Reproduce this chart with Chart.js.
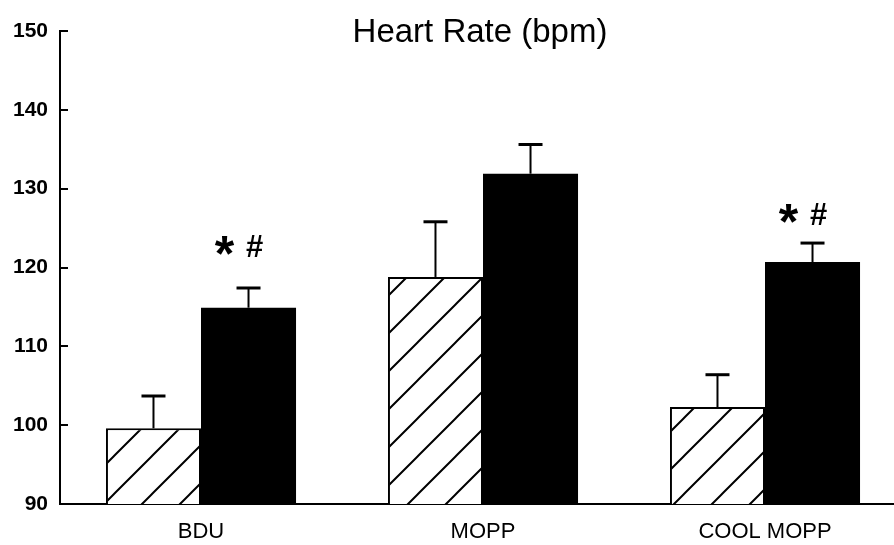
<!DOCTYPE html>
<html>
<head>
<meta charset="utf-8">
<script src="https://cdn.jsdelivr.net/npm/chart.js@4.4.1/dist/chart.umd.min.js"></script>
<style>
    html, body { margin: 0; padding: 0; background: #fff; overflow: hidden; }
    #wrap { width: 894px; height: 545px; overflow: hidden; position: relative; }
    #wrap canvas { position: absolute; left: 0; top: 0; }
</style>
</head>
<body>
<div id="wrap"><canvas id="chart" width="912" height="545"></canvas></div>
<script>
// values
const categories = ['BDU', 'MOPP', 'COOL MOPP']
const hatchedMeans = [99.6, 118.8, 102.3]
const hatchedErr = [4.1, 7.0, 4.1]
const solidMeans = [114.9, 131.9, 120.7]
const solidErr = [2.5, 3.7, 2.4]
const yTicks = [90, 100, 110, 120, 130, 140, 150]
const marks = ['* #', '', '* #']
const markLevel = [121.3, null, 125.4]
const titleText = 'Heart Rate (bpm)'

const FONT = '"Liberation Sans", Arial, Helvetica, sans-serif'

const hatch = () => {
    const c = document.createElement('canvas')
    c.width = c.height = 38
    const g = c.getContext('2d')
    g.fillStyle = '#fff'
    g.fillRect(0, 0, 38, 38)
    g.strokeStyle = '#000'
    g.lineWidth = 2
    g.beginPath()
    g.moveTo(-2, 40); g.lineTo(40, -2)
    g.moveTo(-2, 2); g.lineTo(2, -2)
    g.moveTo(36, 40); g.lineTo(40, 36)
    g.stroke()
    return g.createPattern(c, 'repeat')
}

const extras = {
    id: 'extras',
    afterDatasetsDraw(chart) {
        const ctx = chart.ctx
        const y = chart.scales.y
        const area = chart.chartArea
        ctx.save()
        ctx.strokeStyle = '#000'
        ctx.fillStyle = '#000'

        // inward tick marks
        ctx.lineWidth = 2
        yTicks.forEach(v => {
            if (v === y.min) return
            const py = Math.round(y.getPixelForValue(v))
            ctx.beginPath()
            ctx.moveTo(area.left, py)
            ctx.lineTo(area.left + 8, py)
            ctx.stroke()
        })

        // upper error bars
        const errs = [hatchedErr, solidErr]
        chart.data.datasets.forEach((ds, di) => {
            chart.getDatasetMeta(di).data.forEach((bar, i) => {
                const top = y.getPixelForValue(ds.data[i])
                const end = y.getPixelForValue(ds.data[i] + errs[di][i])
                ctx.lineWidth = 2
                ctx.beginPath()
                ctx.moveTo(bar.x, top)
                ctx.lineTo(bar.x, end)
                ctx.stroke()
                ctx.lineWidth = 3
                ctx.beginPath()
                ctx.moveTo(bar.x - 12, end)
                ctx.lineTo(bar.x + 12, end)
                ctx.stroke()
            })
        })

        // significance marks
        chart.getDatasetMeta(1).data.forEach((bar, i) => {
            if (!marks[i]) return
            const base = y.getPixelForValue(markLevel[i])
            ctx.textAlign = 'center'
            ctx.textBaseline = 'alphabetic'
            ctx.font = 'bold 50px ' + FONT
            ctx.fillText('*', bar.x - 24, base + 14)
            ctx.font = 'bold 31px ' + FONT
            ctx.fillText('#', bar.x + 6, base)
        })

        // title sits inside the plot
        ctx.font = '33px ' + FONT
        ctx.textAlign = 'center'
        ctx.textBaseline = 'alphabetic'
        ctx.fillText(titleText, 480, 42)
        ctx.restore()
    }
}

new Chart(document.getElementById('chart').getContext('2d'), {
    type: 'bar',
    data: {
        labels: categories,
        datasets: [{
            data: hatchedMeans,
            backgroundColor: hatch(),
            borderColor: '#000',
            borderWidth: 2,
            borderSkipped: 'bottom'
        }, {
            data: solidMeans,
            backgroundColor: '#000',
            borderColor: '#000',
            borderWidth: 0
        }]
    },
    options: {
        responsive: false,
        animation: false,
        events: [],
        layout: { padding: { top: 31, right: 6, left: 0, bottom: 0 } },
        datasets: { bar: { categoryPercentage: 0.674, barPercentage: 1.0 } },
        plugins: { legend: { display: false }, title: { display: false }, tooltip: { enabled: false } },
        scales: {
            x: {
                grid: { display: false },
                border: { display: true, color: '#000', width: 2 },
                ticks: { color: '#000', font: { family: FONT, size: 22 }, padding: 7 },
                afterFit: s => { s.height = 41 }
            },
            y: {
                min: 90,
                max: 150,
                afterBuildTicks: s => { s.ticks = yTicks.map(v => ({ value: v })) },
                grid: { display: false },
                border: { display: true, color: '#000', width: 2 },
                ticks: { color: '#000', font: { family: FONT, size: 21, weight: 'bold' }, padding: 4 },
                afterFit: s => { s.width = 60 }
            }
        }
    },
    plugins: [extras]
})
</script>
</body>
</html>
